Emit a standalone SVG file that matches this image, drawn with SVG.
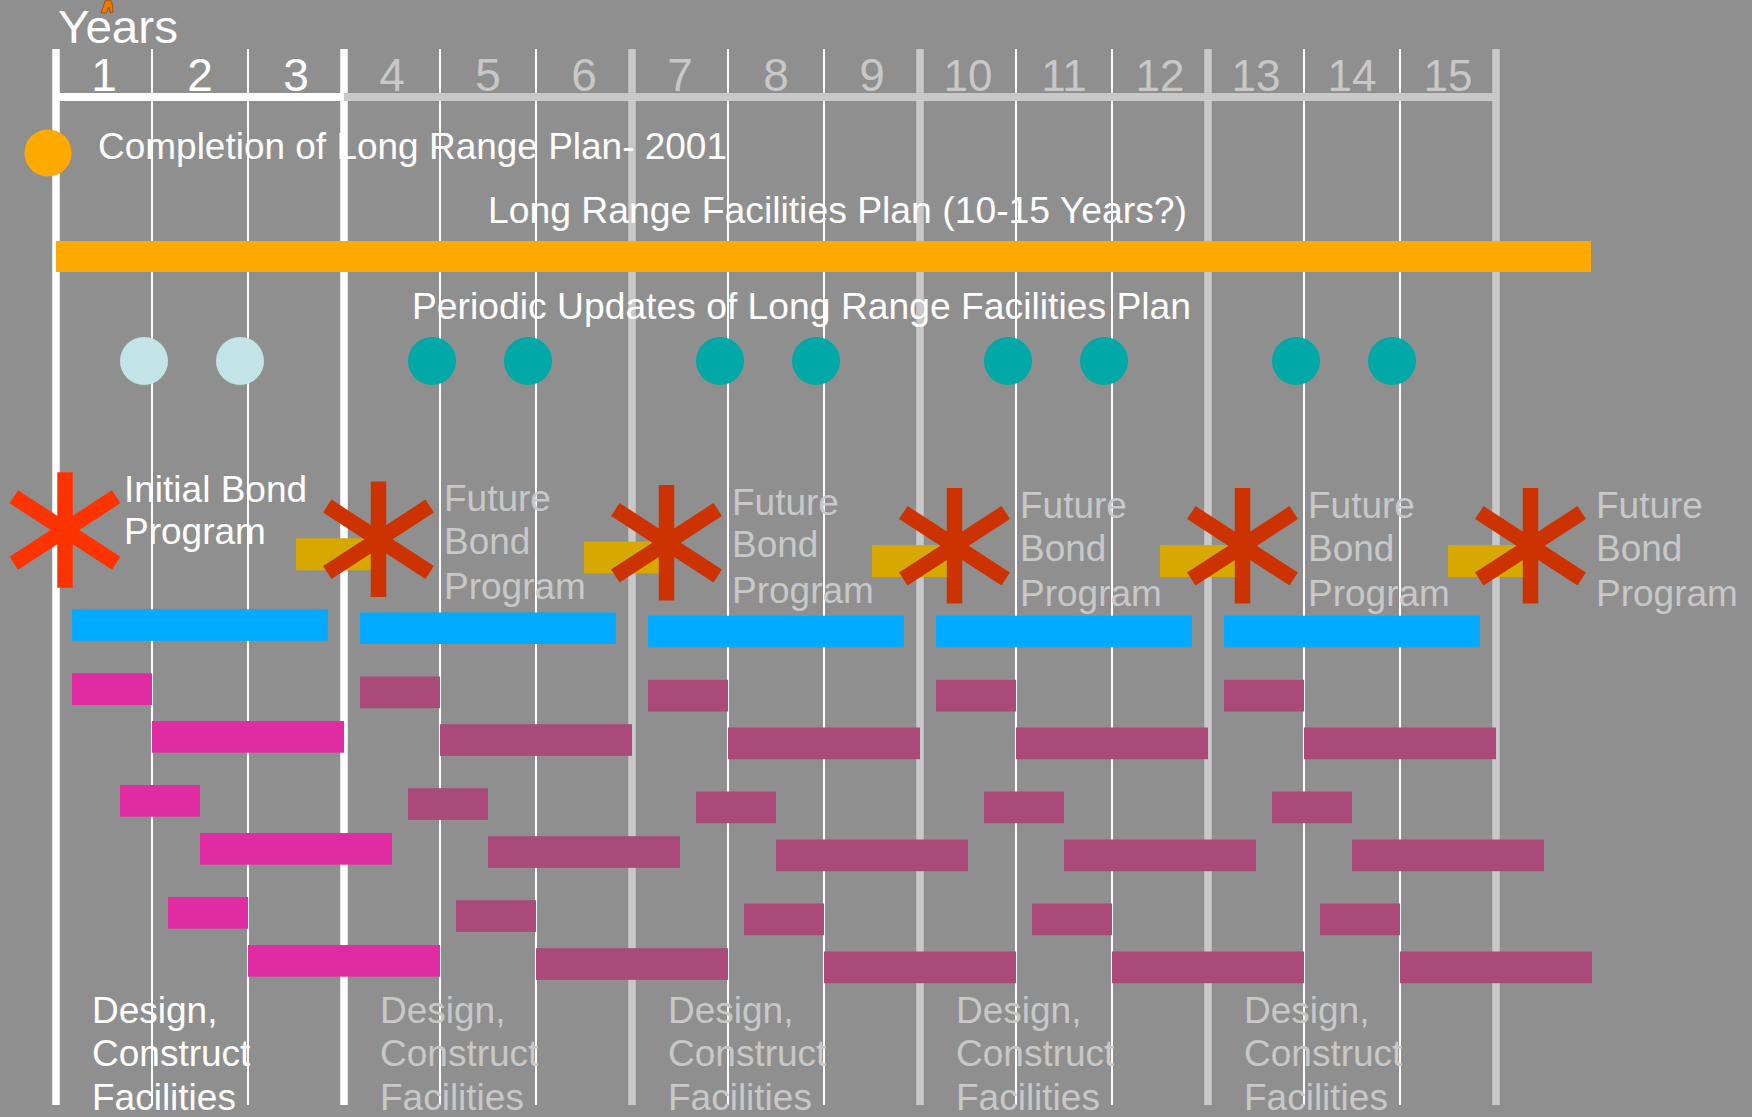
<svg xmlns="http://www.w3.org/2000/svg" xmlns:xlink="http://www.w3.org/1999/xlink" width="1752" height="1117" viewBox="0 0 1752 1117">
<style>
text{font-family:"Liberation Sans",Arial,sans-serif;}
.w{fill:#ffffff;}
.g{fill:#c8c8c8;}
.t37{font-size:37px;}
.num{font-size:46px;text-anchor:middle;}
.num2{font-size:44px;text-anchor:middle;}
.minor{stroke:#ffffff;stroke-width:2;}
.majw{stroke:#ffffff;stroke-width:7.5;}
.majg{stroke:#c8c8c8;stroke-width:7.5;}
.blue{fill:#00aaff;}
.pink{fill:#e02ca2;}
.mauve{fill:#aa4a78;}
.gold{fill:#d6a800;}
.lt{fill:#c2e4e6;}
.teal{fill:#00a8a8;}
</style>
<defs>
<path id="ast" d="M0,-57.7V57.7M-51.2,-33.2L51.2,33.2M-51.2,33.2L51.2,-33.2" fill="none" stroke-width="15.5"/>
<g id="bars">
<rect x="72" y="673.3" width="80" height="31.7"/>
<rect x="152" y="721" width="192" height="31.7"/>
<rect x="120" y="785" width="80" height="31.7"/>
<rect x="200" y="833" width="192" height="31.7"/>
<rect x="168" y="897" width="80" height="31.7"/>
<rect x="248" y="945" width="192" height="31.7"/>
</g>
</defs>
<rect width="1752" height="1117" fill="#8f8f8f"/>
<g id="grid">
<line class="majw" x1="56" y1="49" x2="56" y2="1105"/>
<line class="minor" x1="152" y1="49" x2="152" y2="1105"/>
<line class="minor" x1="248" y1="49" x2="248" y2="1105"/>
<line class="majw" x1="344" y1="49" x2="344" y2="1105"/>
<line class="minor" x1="440" y1="49" x2="440" y2="1105"/>
<line class="minor" x1="536" y1="49" x2="536" y2="1105"/>
<line class="majg" x1="632" y1="49" x2="632" y2="1105"/>
<line class="minor" x1="728" y1="49" x2="728" y2="1105"/>
<line class="minor" x1="824" y1="49" x2="824" y2="1105"/>
<line class="majg" x1="920" y1="49" x2="920" y2="1105"/>
<line class="minor" x1="1016" y1="49" x2="1016" y2="1105"/>
<line class="minor" x1="1112" y1="49" x2="1112" y2="1105"/>
<line class="majg" x1="1208" y1="49" x2="1208" y2="1105"/>
<line class="minor" x1="1304" y1="49" x2="1304" y2="1105"/>
<line class="minor" x1="1400" y1="49" x2="1400" y2="1105"/>
<line class="majg" x1="1496" y1="49" x2="1496" y2="1105"/>
<rect x="344" y="93" width="1152" height="8" fill="#c8c8c8"/>
<rect x="56" y="93" width="288" height="8" fill="#ffffff"/>
</g>
<g id="axis-labels">
<text class="w" x="58" y="43" style="font-size:47px" textLength="120" lengthAdjust="spacingAndGlyphs">Years</text>
<text class="w num" x="104" y="91">1</text>
<text class="w num" x="200" y="91">2</text>
<text class="w num" x="296" y="91">3</text>
<text class="g num" x="392" y="91">4</text>
<text class="g num" x="488" y="91">5</text>
<text class="g num" x="584" y="91">6</text>
<text class="g num" x="680" y="91">7</text>
<text class="g num" x="776" y="91">8</text>
<text class="g num" x="872" y="91">9</text>
<text class="g num2" x="968" y="91">10</text>
<text class="g num2" x="1064" y="91">11</text>
<text class="g num2" x="1160" y="91">12</text>
<text class="g num2" x="1256" y="91">13</text>
<text class="g num2" x="1352" y="91">14</text>
<text class="g num2" x="1448" y="91">15</text>
</g>
<g id="figure">
<path d="M101,13 L103.5,6 L105,1 L108,0 L111,0.5 L112.5,5 L113,12 L110.5,13 L109,7 L106.5,13 Z" fill="#f07800" stroke="#7a3a00" stroke-width="0.6"/>
</g>
<g id="completion">
<circle cx="48" cy="153" r="23.6" fill="#ffaa00"/>
<text class="w t37" x="98" y="159" textLength="629" lengthAdjust="spacingAndGlyphs">Completion of Long Range Plan- 2001</text>
</g>
<g id="long-range-plan">
<text class="w t37" x="488" y="223" textLength="699" lengthAdjust="spacingAndGlyphs">Long Range Facilities Plan (10-15 Years?)</text>
<rect x="56" y="241" width="1535" height="31" fill="#ffaa00"/>
</g>
<g id="periodic-updates">
<text class="w t37" x="412" y="319" textLength="779" lengthAdjust="spacingAndGlyphs">Periodic Updates of Long Range Facilities Plan</text>
<circle class="lt" cx="144" cy="361" r="24"/>
<circle class="lt" cx="240" cy="361" r="24"/>
<circle class="teal" cx="432" cy="361" r="24"/>
<circle class="teal" cx="528" cy="361" r="24"/>
<circle class="teal" cx="720" cy="361" r="24"/>
<circle class="teal" cx="816" cy="361" r="24"/>
<circle class="teal" cx="1008" cy="361" r="24"/>
<circle class="teal" cx="1104" cy="361" r="24"/>
<circle class="teal" cx="1296" cy="361" r="24"/>
<circle class="teal" cx="1392" cy="361" r="24"/>
</g>
<g id="initial-bond">
<use xlink:href="#ast" href="#ast" x="65" y="530" stroke="#ff3300"/>
<text class="w t37" x="124" y="502">Initial Bond</text>
<text class="w t37" x="124" y="544">Program</text>
</g>
<g id="future-bond-1">
<rect class="gold" x="296" y="538.3" width="75" height="32"/>
<use xlink:href="#ast" href="#ast" x="378.5" y="539.3" stroke="#cc3300"/>
<text class="g t37" x="444" y="511">Future</text>
<text class="g t37" x="444" y="553.5">Bond</text>
<text class="g t37" x="444" y="599">Program</text>
</g>
<g id="future-bond-2">
<rect class="gold" x="584" y="541.5" width="75" height="32"/>
<use xlink:href="#ast" href="#ast" x="666.5" y="542.7" stroke="#cc3300"/>
<text class="g t37" x="732" y="514.5">Future</text>
<text class="g t37" x="732" y="557">Bond</text>
<text class="g t37" x="732" y="602.5">Program</text>
</g>
<g id="future-bond-3">
<rect class="gold" x="872" y="545" width="75" height="32"/>
<use xlink:href="#ast" href="#ast" x="954.5" y="545.7" stroke="#cc3300"/>
<text class="g t37" x="1020" y="518">Future</text>
<text class="g t37" x="1020" y="560.5">Bond</text>
<text class="g t37" x="1020" y="606">Program</text>
</g>
<g id="future-bond-4">
<rect class="gold" x="1160" y="545" width="75" height="32"/>
<use xlink:href="#ast" href="#ast" x="1242.5" y="545.8" stroke="#cc3300"/>
<text class="g t37" x="1308" y="518">Future</text>
<text class="g t37" x="1308" y="560.5">Bond</text>
<text class="g t37" x="1308" y="606">Program</text>
</g>
<g id="future-bond-5">
<rect class="gold" x="1448" y="545" width="75" height="32"/>
<use xlink:href="#ast" href="#ast" x="1530.5" y="545.8" stroke="#cc3300"/>
<text class="g t37" x="1596" y="518">Future</text>
<text class="g t37" x="1596" y="560.5">Bond</text>
<text class="g t37" x="1596" y="606">Program</text>
</g>
<g id="program-1">
<rect class="blue" x="72" y="609.3" width="256" height="31.5"/>
<use xlink:href="#bars" href="#bars" class="pink"/>
<text class="w t37" x="92" y="1023">Design,</text>
<text class="w t37" x="92" y="1066">Construct</text>
<text class="w t37" x="92" y="1110">Facilities</text>
</g>
<g id="program-2">
<rect class="blue" x="360" y="612.5" width="256" height="31.5"/>
<use xlink:href="#bars" href="#bars" class="mauve" x="288" y="3.2"/>
<text class="g t37" x="380" y="1023">Design,</text>
<text class="g t37" x="380" y="1066">Construct</text>
<text class="g t37" x="380" y="1110">Facilities</text>
</g>
<g id="program-3">
<rect class="blue" x="648" y="615.8" width="256" height="31.5"/>
<use xlink:href="#bars" href="#bars" class="mauve" x="576" y="6.5"/>
<text class="g t37" x="668" y="1023">Design,</text>
<text class="g t37" x="668" y="1066">Construct</text>
<text class="g t37" x="668" y="1110">Facilities</text>
</g>
<g id="program-4">
<rect class="blue" x="936" y="615.8" width="256" height="31.5"/>
<use xlink:href="#bars" href="#bars" class="mauve" x="864" y="6.5"/>
<text class="g t37" x="956" y="1023">Design,</text>
<text class="g t37" x="956" y="1066">Construct</text>
<text class="g t37" x="956" y="1110">Facilities</text>
</g>
<g id="program-5">
<rect class="blue" x="1224" y="615.8" width="256" height="31.5"/>
<use xlink:href="#bars" href="#bars" class="mauve" x="1152" y="6.5"/>
<text class="g t37" x="1244" y="1023">Design,</text>
<text class="g t37" x="1244" y="1066">Construct</text>
<text class="g t37" x="1244" y="1110">Facilities</text>
</g>
<g id="connectors"/>
</svg>
